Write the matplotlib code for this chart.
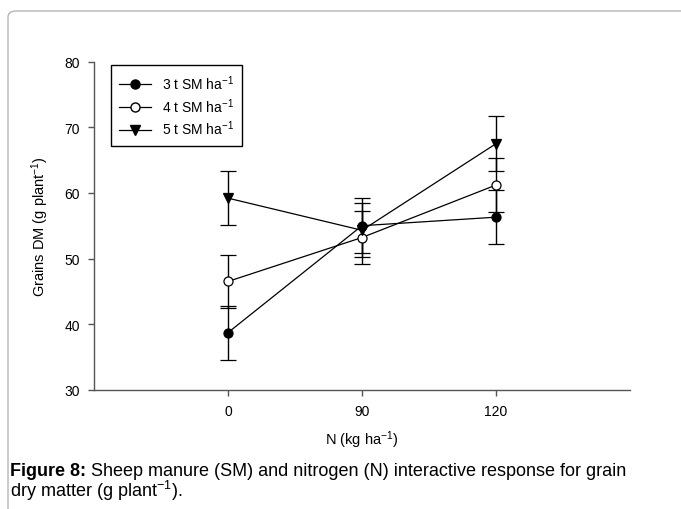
import matplotlib
matplotlib.use("Agg")
import matplotlib.pyplot as plt
from matplotlib.patches import FancyBboxPatch
from matplotlib.lines import Line2D

plt.rcParams['font.family'] = ['Liberation Sans', 'DejaVu Sans']
plt.rcParams['mathtext.fontset'] = 'custom'
plt.rcParams['mathtext.rm'] = 'Liberation Sans'
plt.rcParams['mathtext.it'] = 'Liberation Sans:italic'
plt.rcParams['mathtext.bf'] = 'Liberation Sans:bold'

# data
n_labels = ['0', '90', '120']
sm3 = [38.7, 55.0, 56.3]
sm3_err = [4.1, 4.2, 4.1]
sm4 = [46.5, 53.2, 61.2]
sm4_err = [4.1, 4.1, 4.1]
sm5 = [59.2, 54.3, 67.5]
sm5_err = [4.1, 4.1, 4.2]
series_labels = ['3 t SM ha$^{-1}$', '4 t SM ha$^{-1}$', '5 t SM ha$^{-1}$']

x = [1, 2, 3]

fig = plt.figure(figsize=(6.81, 5.10), dpi=100)

# rounded frame around the figure panel
frame = FancyBboxPatch((8 / 681, -0.1), 1.2, 1.1 - 12 / 510,
                       boxstyle="round,pad=0,rounding_size=0.012",
                       transform=fig.transFigure, facecolor='none',
                       edgecolor='#b5b5b5', linewidth=1.0)
fig.patches.append(frame)

ax = fig.add_axes([94 / 681, 1 - 390.7 / 510, (630 - 94) / 681, (390.7 - 62.7) / 510])

common = dict(color='black', linewidth=0.9, elinewidth=1.0, capsize=6, capthick=1.0,
              markersize=6.5, markeredgecolor='black', markeredgewidth=0.9)
ax.errorbar(x, sm3, yerr=sm3_err, marker='o', markerfacecolor='black', **common)
ax.errorbar(x, sm4, yerr=sm4_err, marker='o', markerfacecolor='white', **common)
ax.errorbar(x, sm5, yerr=sm5_err, marker='v', markerfacecolor='black', **common)

ax.set_xlim(0, 4)
ax.set_ylim(30, 80)
ax.set_xticks(x)
ax.set_xticklabels(n_labels)
ax.set_yticks([30, 40, 50, 60, 70, 80])
ax.spines['top'].set_visible(False)
ax.spines['right'].set_visible(False)
for s in ['left', 'bottom']:
    ax.spines[s].set_color('#555555')
    ax.spines[s].set_linewidth(1.0)
ax.tick_params(direction='out', length=4, width=1.0, color='#555555',
               labelsize=10, pad=6)

ax.set_xlabel('N (kg ha$^{-1}$)', fontsize=10.5, labelpad=8)
ax.set_ylabel('Grains DM (g plant$^{-1}$)', fontsize=10.5, labelpad=10)

handles = [
    Line2D([], [], color='black', linewidth=0.9, marker='o', markersize=6.5,
           markerfacecolor='black', markeredgecolor='black'),
    Line2D([], [], color='black', linewidth=0.9, marker='o', markersize=6.5,
           markerfacecolor='white', markeredgecolor='black'),
    Line2D([], [], color='black', linewidth=0.9, marker='v', markersize=6.5,
           markerfacecolor='black', markeredgecolor='black'),
]
leg = ax.legend(handles, series_labels, loc='upper left', bbox_to_anchor=(0.032, 0.99),
                borderaxespad=0, fontsize=10, handlelength=2.3, handletextpad=0.75,
                labelspacing=0.3, borderpad=0.6, fancybox=False, framealpha=1)
leg.get_frame().set_edgecolor('black')
leg.get_frame().set_linewidth(1.0)

# caption: bold lead-in followed by normal text
cap_y1 = 1 - 472 / 510
cap_y2 = 1 - 491 / 510
bold = fig.text(10 / 681, cap_y1, 'Figure 8:', fontsize=13, fontweight='bold',
                va='center', ha='left')
fig.canvas.draw()
bb = bold.get_window_extent(renderer=fig.canvas.get_renderer())
fig.text(bb.x1 / fig.bbox.width, cap_y1,
         ' Sheep manure (SM) and nitrogen (N) interactive response for grain',
         fontsize=13, va='center', ha='left')
fig.text(10 / 681, cap_y2, 'dry matter (g plant$^{-1}$).',
         fontsize=13, va='center', ha='left')

fig.savefig('out.png', dpi=100)
